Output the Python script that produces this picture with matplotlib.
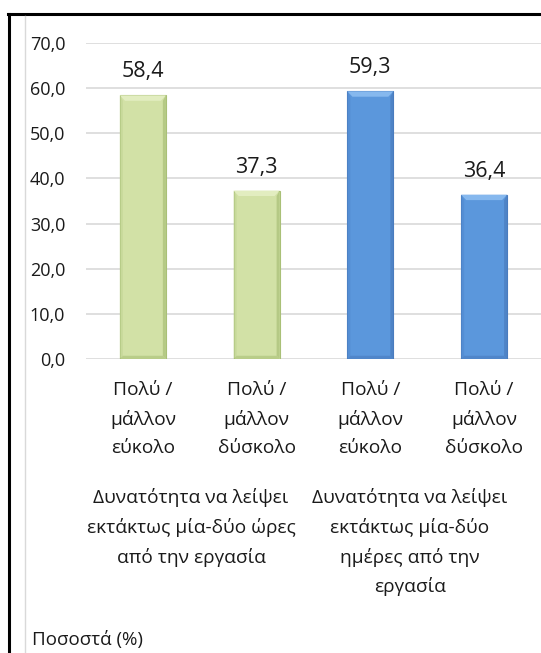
import matplotlib
matplotlib.use("Agg")
import matplotlib.pyplot as plt
from matplotlib.patches import Polygon
from matplotlib.lines import Line2D
import numpy as np

plt.rcParams['font.family'] = ['Open Sans', 'DejaVu Sans']

categories = ["Πολύ /\nμάλλον\nεύκολο", "Πολύ /\nμάλλον\nδύσκολο",
              "Πολύ /\nμάλλον\nεύκολο", "Πολύ /\nμάλλον\nδύσκολο"]
values = [58.4, 37.3, 59.3, 36.4]
value_labels = ["58,4", "37,3", "59,3", "36,4"]
groups = ["Δυνατότητα να λείψει\nεκτάκτως μία-δύο ώρες\nαπό την εργασία",
          "Δυνατότητα να λείψει\nεκτάκτως μία-δύο\nημέρες από την\nεργασία"]
yticks = [0, 10, 20, 30, 40, 50, 60, 70]
ytick_labels = ["0,0", "10,0", "20,0", "30,0", "40,0", "50,0", "60,0", "70,0"]
unit_label = "Ποσοστά (%)"

fills = ["#D2E1A6", "#D2E1A6", "#5B97DC", "#5B97DC"]
edges = ["#A9C077", "#A9C077", "#4A7CBE", "#4A7CBE"]
tops = ["#E2EDC0", "#E2EDC0", "#86B8EE", "#86B8EE"]
sides = ["#C2D594", "#C2D594", "#5089CF", "#5089CF"]

W, H = 541, 653
fig = plt.figure(figsize=(W / 100, H / 100), dpi=100)
fig.patch.set_facecolor("white")

x0, x1 = 86, 541
y0, y1 = 359, 43
ax = fig.add_axes([x0 / W, 1 - y0 / H, (x1 - x0) / W, (y0 - y1) / H])
ax.set_xlim(-0.5, 3.5)
ax.set_ylim(0, 70)
for s in ax.spines.values():
    s.set_visible(False)
ax.set_yticks(yticks)
ax.set_yticklabels(ytick_labels, fontsize=13, color="#1a1a1a")
ax.tick_params(axis="y", length=0, pad=15)
ax.grid(axis="y", color="#D9D9D9", linewidth=1.2)
ax.set_axisbelow(True)

x = np.arange(len(values))
bw = 0.405
bars = ax.bar(x, values, width=bw, color=fills, edgecolor=edges, linewidth=0.8, zorder=2)

# bevel effect
bev_x = 0.045
bev_y = 1.2
for i, (xi, v) in enumerate(zip(x, values)):
    l, r = xi - bw / 2, xi + bw / 2
    top_poly = Polygon([[l, v], [r, v], [r - bev_x, v - bev_y], [l + bev_x, v - bev_y]],
                       closed=True, facecolor=tops[i], edgecolor="none", zorder=3)
    ax.add_patch(top_poly)
    left_poly = Polygon([[l, v], [l + bev_x * 0.6, v - bev_y], [l + bev_x * 0.6, bev_y * 0.6], [l, 0]],
                        closed=True, facecolor=sides[i], edgecolor="none", zorder=3, alpha=0.6)
    ax.add_patch(left_poly)
    right_poly = Polygon([[r, v], [r - bev_x * 0.6, v - bev_y], [r - bev_x * 0.6, bev_y * 0.6], [r, 0]],
                         closed=True, facecolor=edges[i], edgecolor="none", zorder=3, alpha=0.7)
    ax.add_patch(right_poly)
    bot_poly = Polygon([[l, 0], [r, 0], [r - bev_x * 0.6, bev_y * 0.6], [l + bev_x * 0.6, bev_y * 0.6]],
                       closed=True, facecolor=edges[i], edgecolor="none", zorder=3, alpha=0.6)
    ax.add_patch(bot_poly)
    ax.text(xi, v + 2.9, value_labels[i], ha="center", va="bottom", fontsize=15.5, color="#1a1a1a")

ax.set_xticks(x)
ax.set_xticklabels(categories, fontsize=13.8, color="#1a1a1a", linespacing=1.72)
ax.tick_params(axis="x", length=0, pad=16)

# group labels
group_x = [191, 410]
for gx, g in zip(group_x, groups):
    fig.text(gx / W, 1 - 488 / H, g, ha="center", va="top", fontsize=13.8,
             color="#1a1a1a", linespacing=1.72)

fig.text(32 / W, 1 - 640 / H, unit_label, ha="left", va="center", fontsize=13.5, color="#1a1a1a")

# frame lines
fig.add_artist(Line2D([9 / W, 9 / W], [0, 1 - 14 / H], color="black", linewidth=2.2))
fig.add_artist(Line2D([8 / W, 1], [1 - 14 / H, 1 - 14 / H], color="black", linewidth=2.2))
fig.add_artist(Line2D([24.5 / W, 24.5 / W], [0, 1 - 16 / H], color="#D9D9D9", linewidth=1))

fig.savefig("out.png", dpi=100)
